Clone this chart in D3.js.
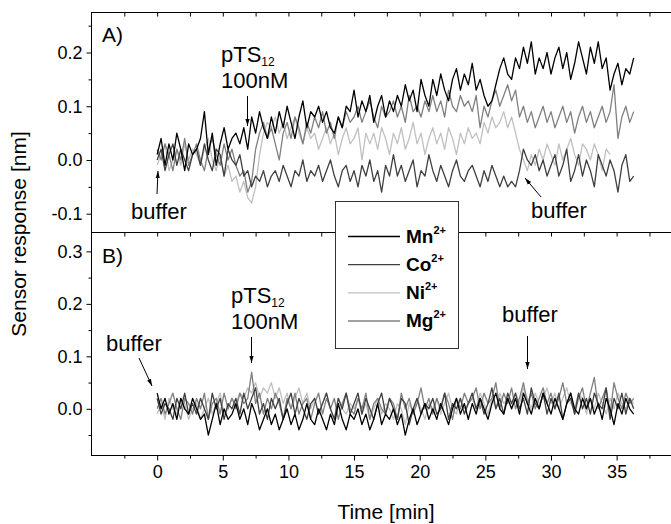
<!DOCTYPE html>
<html>
<head>
<meta charset="utf-8">
<script src="https://cdn.jsdelivr.net/npm/d3@7"></script>
<style>
  body { margin: 0; background: #fff; }
  svg { font-family: "Liberation Sans", Arial, sans-serif; }
</style>
</head>
<body>
<svg class="visual" width="671" height="524"></svg>
<script>
const svg = d3.select(".visual");

// minutes between two samples, all series start at t = 0
const timeStep = 0.3;

const ions = ["Mn", "Co", "Ni", "Mg"];
const ionColors = ["#000000", "#404040", "#c0c0c0", "#808080"];

// Panel A: sensor response [nm]
const mnA = [.01,.04,-.01,.03,.00,.05,.02,-.02,.03,.01,
  .02,.04,.09,.01,.05,-.01,.03,.06,.02,.04,
  .05,.03,.06,.02,.08,.05,.09,.06,.04,.08,
  .05,.09,.06,.10,.07,.04,.08,.11,.06,.09,
  .08,.10,.07,.09,.06,.05,.08,.06,.10,.09,
  .13,.08,.11,.09,.12,.07,.10,.12,.08,.11,
  .09,.12,.10,.14,.11,.13,.09,.15,.12,.10,
  .15,.12,.16,.13,.11,.15,.17,.13,.16,.14,
  .18,.13,.15,.12,.10,.11,.14,.17,.19,.16,
  .15,.19,.17,.21,.18,.22,.16,.19,.17,.20,
  .16,.19,.21,.17,.20,.15,.18,.22,.19,.16,
  .21,.18,.22,.17,.19,.13,.16,.18,.14,.17,.16,.19];
const coA = [.00,.02,-.02,.01,.03,-.01,.02,.00,-.02,.01,
  .02,-.01,.03,.00,-.02,.02,.01,-.03,.02,.00,
  -.01,.01,-.03,-.02,-.05,-.03,-.04,-.02,-.05,-.03,
  -.02,-.04,-.01,-.03,-.05,-.02,-.03,.00,-.04,-.02,
  -.03,-.01,-.04,-.02,.00,-.03,-.05,-.02,-.01,-.04,
  -.02,-.05,-.01,-.03,.00,-.04,-.02,-.06,-.01,-.03,
  .01,-.03,-.01,-.04,-.02,.00,-.05,-.02,-.03,.01,
  -.02,-.04,-.01,-.03,-.05,-.02,.00,-.03,-.04,-.02,
  -.01,-.03,-.05,-.02,-.04,-.01,-.03,-.05,-.03,-.05,
  -.04,-.05,-.02,.02,.00,-.01,.01,-.02,.00,-.03,
  -.01,.01,-.03,-.01,.02,-.04,-.02,.01,-.03,.00,
  -.02,-.05,.01,-.01,-.03,.00,-.02,-.06,-.01,.01,-.04,-.03];
const niA = [-.01,.01,.03,-.02,.00,.02,-.01,.03,.00,.02,
  .01,-.01,.02,.04,.00,-.02,.01,-.03,-.01,-.04,
  -.03,-.06,-.04,-.07,-.08,-.05,.01,.05,.07,.06,
  .08,.05,.07,.04,.06,.08,.05,.03,.06,.04,
  .05,.02,.04,.06,.03,.05,.01,.04,.06,.03,
  .04,.06,.00,.05,.03,.05,.02,.06,.04,.01,
  .05,.03,.06,.02,.04,.07,.03,.05,.01,.04,
  .06,.03,.05,.02,.06,.04,.01,.05,.03,.06,
  .04,.05,.03,.07,.05,.08,.06,.07,.09,.06,
  .08,.05,.02,.00,-.02,.01,-.01,.02,.00,.03,
  .01,-.01,.03,.00,.02,.04,.01,-.01,.03,.02,
  .00,.03,.01,-.02,.02,.01];
const mgA = [.02,.00,.03,.01,-.02,.02,.00,.04,-.01,.01,
  .03,.00,-.02,.02,.04,.01,-.01,.03,.00,.02,
  -.01,-.03,-.02,-.06,-.04,.02,.05,.07,.04,.06,
  .03,.00,.05,.07,.04,.08,.06,.03,.07,.05,
  .08,.06,.09,.05,.07,.04,.08,.06,.09,.07,
  .08,.10,.07,.09,.11,.08,.06,.10,.08,.09,
  .11,.08,.10,.07,.12,.09,.10,.08,.11,.09,
  .12,.09,.11,.08,.13,.10,.09,.12,.10,.11,
  .09,.12,.06,.10,.08,.11,.13,.10,.12,.14,
  .11,.13,.08,.10,.07,.09,.06,.08,.10,.07,
  .09,.06,.08,.10,.07,.09,.05,.08,.10,.07,
  .09,.06,.08,.10,.07,.09,.14,.04,.08,.10,.07,.09];

// Panel B: sensor response [nm]
const mnB = [.03,.00,.02,-.01,.01,-.02,.02,.00,-.01,.02,
  .00,-.02,-.01,-.05,-.02,.01,-.03,.00,-.02,-.01,
  .01,-.02,.00,-.03,.01,-.01,-.04,-.02,.00,-.03,
  -.01,-.04,-.02,.00,-.03,-.01,-.04,-.02,.01,-.02,
  -.03,.00,-.02,-.04,-.01,-.03,.01,-.02,-.04,-.01,
  -.02,.00,-.03,-.01,-.04,-.02,.01,-.03,-.01,-.02,
  .00,-.03,-.01,-.05,-.02,.00,-.03,-.01,.01,-.02,
  .00,-.02,.01,-.01,-.03,.00,.02,-.01,.01,-.02,
  .01,-.01,.02,.00,-.02,.01,.03,.00,-.01,.02,
  .00,.02,-.01,.03,.01,-.01,.02,.00,.03,.01,
  -.01,.02,.00,-.02,.01,.03,.00,-.01,.02,.00,
  .02,-.01,.01,-.02,.02,.00,-.03,.01,-.01,.02,.00,-.01];
const coB = [.02,-.01,.01,.00,-.02,.02,.00,.03,-.01,.01,
  -.01,.02,.00,-.02,.03,.00,.02,-.02,.01,.00,
  .02,-.01,.03,.00,.02,.04,-.01,.01,-.02,.02,
  .00,.02,-.02,.01,.03,-.01,.02,.00,-.02,.01,
  .02,-.01,.01,.03,.00,-.02,.02,.00,.03,-.01,
  .01,.03,-.01,.02,.00,-.02,.01,.03,-.01,.02,
  .00,-.02,.02,.01,-.03,.00,.02,-.01,.01,.00,
  .02,-.01,.00,.03,-.02,.01,.00,.02,-.01,.01,
  .03,.00,.02,-.01,.01,.04,.00,.02,-.01,.03,
  .01,.03,.00,.02,-.01,.04,.01,.00,.03,-.01,
  .02,.00,.03,-.02,.01,.02,-.01,.03,.00,.02,
  -.01,.03,.01,.00,.04,-.02,.02,.00,.03,-.01,.02,.00];
const niB = [-.01,.01,-.02,.02,.00,-.01,.02,.01,-.02,.00,
  .01,-.02,.00,.02,-.01,.01,.03,-.01,.00,.02,
  .01,.03,.02,.04,.03,.05,.02,.04,.03,.05,
  .02,.04,.01,.03,.00,.02,.04,.01,.03,.00,
  .02,-.01,.01,.03,.00,-.02,.02,.00,-.01,.01,
  .00,.02,-.01,.01,-.02,.00,.02,-.01,.01,.00,
  -.02,.01,.00,-.03,.01,-.01,.02,.00,-.02,.01,
  .00,.02,-.01,.01,.03,.00,-.01,.02,.00,.01,
  .02,.00,.03,.01,-.01,.02,.00,.03,.01,.02,
  .00,.03,.01,.04,.02,.00,.03,.01,.02,.04,
  .01,.03,.00,.02,.04,.01,.00,.03,.02,-.01,
  .02,.00,.03,.01,-.01,.02,.00,.03,.01,.00,.02,.01];
const mgB = [.00,.02,-.01,.01,.03,.00,-.02,.02,.01,-.01,
  .02,.00,.03,-.02,.01,.02,-.01,.03,.00,.02,
  .00,.03,.01,.02,.07,.01,.03,-.01,.02,.00,
  .03,.01,-.02,.02,.00,.03,-.01,.01,.02,-.02,
  .01,.03,-.01,.02,.00,.02,-.02,.01,.03,.00,
  -.01,.02,.00,.03,-.02,.01,.02,.00,-.01,.02,
  .01,-.02,.03,.00,.02,-.01,.01,.04,.00,.02,
  -.01,.02,.00,.03,.01,-.02,.02,.00,.03,.01,
  .02,.04,.00,.03,.01,.02,.05,.00,.03,.01,
  .04,.00,.02,.05,.01,.03,.00,.02,.04,.01,
  .03,.00,.02,.05,.01,.03,-.01,.02,.04,.00,
  .03,.06,.00,.02,.04,-.01,.05,.02,.00,.03,.01,.02];

const seriesA = [mnA, coA, niA, mgA];
const seriesB = [mnB, coB, niB, mgB];

// tick values
const xMajor = [0, 5, 10, 15, 20, 25, 30, 35];
const xMinor = [-2.5, 2.5, 7.5, 12.5, 17.5, 22.5, 27.5, 32.5, 37.5];
const yAMajor = [-0.1, 0.0, 0.1, 0.2];
const yAMinor = [-0.05, 0.05, 0.15, 0.25];
const yBMajor = [0.0, 0.1, 0.2, 0.3];
const yBMinor = [-0.05, 0.05, 0.15, 0.25];

// Layout of the frame
const frame = {left: 91.5, right: 700, top: 12.5, mid: 232.5, bottom: 455.5};

const x = d3.scaleLinear().domain([-5, 41.35]).range([frame.left, frame.right]);
const yA = d3.scaleLinear().domain([-0.135, 0.2745]).range([frame.mid, frame.top]);
const yB = d3.scaleLinear().domain([-0.089, 0.336]).range([frame.bottom, frame.mid]);

const fmt = d => d.toFixed(1);

// Frame and panel divider
svg.append("rect")
  .attr("x", frame.left).attr("y", frame.top)
  .attr("width", frame.right - frame.left).attr("height", frame.bottom - frame.top)
  .attr("fill", "none").attr("stroke", "#000").attr("stroke-width", 1);
svg.append("line")
  .attr("x1", frame.left).attr("x2", frame.right)
  .attr("y1", frame.mid).attr("y2", frame.mid)
  .attr("stroke", "#000");

function styleAxis(g) {
  g.select(".domain").remove();
  g.selectAll("line").attr("stroke", "#000");
  g.selectAll("text").attr("fill", "#000")
    .style("font-family", "'Liberation Sans', Arial, sans-serif");
}

// Left axes
function leftAxis(scale, major, minor) {
  svg.append("g").attr("transform", `translate(${frame.left},0)`)
    .call(d3.axisLeft(scale).tickValues(major).tickFormat(fmt).tickSize(5).tickPadding(4))
    .call(styleAxis)
    .selectAll("text").style("font-size", "18px");
  svg.append("g").attr("transform", `translate(${frame.left},0)`)
    .call(d3.axisLeft(scale).tickValues(minor).tickFormat("").tickSize(3))
    .call(styleAxis);
}
leftAxis(yA, yAMajor, yAMinor);
leftAxis(yB, yBMajor, yBMinor);

// Inward ticks on top of each panel
[frame.top, frame.mid].forEach(yy => {
  svg.append("g").attr("transform", `translate(0,${yy})`)
    .call(d3.axisBottom(x).tickValues(xMajor.concat(xMinor)).tickFormat("").tickSize(4))
    .call(styleAxis);
});

// Bottom axis
svg.append("g").attr("transform", `translate(0,${frame.bottom})`)
  .call(d3.axisBottom(x).tickValues(xMajor).tickSize(5).tickPadding(5))
  .call(styleAxis)
  .selectAll("text").style("font-size", "18px");
svg.append("g").attr("transform", `translate(0,${frame.bottom})`)
  .call(d3.axisBottom(x).tickValues(xMinor).tickFormat("").tickSize(3))
  .call(styleAxis);

// Axis titles
svg.append("text")
  .attr("x", 386).attr("y", 519)
  .attr("text-anchor", "middle")
  .style("font-size", "21px")
  .text("Time [min]");
svg.append("text")
  .attr("transform", "translate(26,234) rotate(-90)")
  .attr("text-anchor", "middle")
  .style("font-size", "21px")
  .text("Sensor response [nm]");

// The traces, lightest drawn first
const drawOrder = [2, 3, 1, 0];
function drawPanel(series, scale) {
  const line = d3.line()
    .x((d, i) => x(i * timeStep))
    .y(d => scale(d));
  drawOrder.forEach(k => {
    svg.append("path")
      .datum(series[k])
      .attr("d", line)
      .attr("fill", "none")
      .attr("stroke", ionColors[k])
      .attr("stroke-width", 1.3)
      .attr("stroke-linejoin", "round");
  });
}
drawPanel(seriesA, yA);
drawPanel(seriesB, yB);

// Panel letters
svg.append("text").attr("x", 102).attr("y", 42).style("font-size", "21px").text("A)");
svg.append("text").attr("x", 102).attr("y", 263).style("font-size", "21px").text("B)");

// arrow head
svg.append("defs").append("marker")
  .attr("id", "head")
  .attr("viewBox", "0 0 10 10")
  .attr("refX", 10).attr("refY", 5)
  .attr("markerWidth", 7).attr("markerHeight", 7)
  .attr("markerUnits", "userSpaceOnUse")
  .attr("orient", "auto")
  .append("path")
  .attr("d", "M0,2 L10,5 L0,8 Z")
  .attr("fill", "#000");

function arrow(x1, y1, x2, y2) {
  svg.append("line")
    .attr("x1", x1).attr("y1", y1).attr("x2", x2).attr("y2", y2)
    .attr("stroke", "#000").attr("stroke-width", 1)
    .attr("marker-end", "url(#head)");
}

function label(xx, yy, txt) {
  svg.append("text").attr("x", xx).attr("y", yy).style("font-size", "22px").text(txt);
}

function pts(xx, yy) {
  const t = svg.append("text").attr("x", xx).attr("y", yy).style("font-size", "22px");
  t.append("tspan").text("pTS");
  t.append("tspan").attr("dy", 4).style("font-size", "12px").text("12");
  label(xx, yy + 26, "100nM");
}

// Annotations, panel A
pts(221, 62);
arrow(247.5, 96, 247.5, 126);
label(131, 219, "buffer");
arrow(157, 194, 158, 171);
label(531, 218, "buffer");
arrow(541, 197, 525, 178);

// Annotations, panel B
label(106, 351, "buffer");
arrow(139, 358, 152, 386);
pts(231, 303);
arrow(251.5, 337, 251.5, 363);
label(502, 322, "buffer");
arrow(527.5, 336, 527.5, 369);

// Legend
const legend = svg.append("g");
legend.append("rect")
  .attr("x", 335.5).attr("y", 201.5)
  .attr("width", 123).attr("height", 147)
  .attr("fill", "#fff").attr("stroke", "#333");
const legendY = d3.scalePoint().domain(ions).range([236.5, 321]);
ions.forEach((ion, k) => {
  legend.append("line")
    .attr("x1", 348).attr("x2", 400)
    .attr("y1", legendY(ion)).attr("y2", legendY(ion))
    .attr("stroke", ionColors[k]).attr("stroke-width", 1.3);
  const t = legend.append("text")
    .attr("x", 406).attr("y", legendY(ion) + 6)
    .style("font-size", "19px").style("font-weight", "bold");
  t.append("tspan").text(ion);
  t.append("tspan").attr("dy", -9).style("font-size", "11px").text("2+");
});
</script>
</body>
</html>
